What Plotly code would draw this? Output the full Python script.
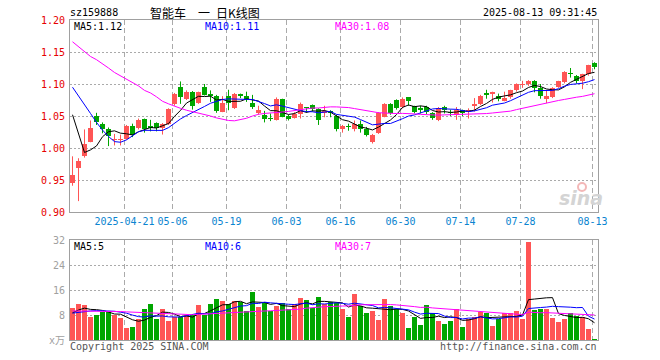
import plotly.graph_objects as go

# ---------------- data ----------------
opens = [0.946, 0.968, 0.987, 1.010, 1.050, 1.038, 1.030, 1.012, 1.012, 1.014,
         1.035, 1.031, 1.045, 1.035, 1.039, 1.031, 1.038, 1.068, 1.095, 1.077,
         1.088, 1.070, 1.095, 1.085, 1.082, 1.057, 1.082, 1.062, 1.085, 1.082,
         1.071, 1.054, 1.052, 1.046, 1.044, 1.076, 1.050, 1.047, 1.053, 1.064,
         1.067, 1.061, 1.055, 1.058, 1.050, 1.029, 1.035, 1.029, 1.038, 1.030,
         1.009, 1.024, 1.049, 1.069, 1.075, 1.064, 1.079, 1.065, 1.062, 1.064,
         1.054, 1.043, 1.064, 1.057, 1.052, 1.059, 1.056, 1.065, 1.068, 1.086,
         1.085, 1.081, 1.074, 1.079, 1.090, 1.099, 1.100, 1.105, 1.093, 1.077,
         1.079, 1.095, 1.103, 1.117, 1.113, 1.104, 1.115, 1.133]
highs = [0.987, 0.984, 1.029, 1.043, 1.055, 1.040, 1.032, 1.022, 1.021, 1.036,
         1.038, 1.046, 1.046, 1.044, 1.040, 1.039, 1.062, 1.086, 1.104, 1.090,
         1.089, 1.088, 1.100, 1.090, 1.083, 1.081, 1.091, 1.086, 1.085, 1.088,
         1.083, 1.066, 1.058, 1.054, 1.079, 1.077, 1.052, 1.056, 1.071, 1.064,
         1.068, 1.062, 1.066, 1.059, 1.052, 1.036, 1.038, 1.043, 1.043, 1.033,
         1.022, 1.056, 1.070, 1.070, 1.076, 1.079, 1.079, 1.066, 1.066, 1.066,
         1.056, 1.064, 1.066, 1.060, 1.064, 1.060, 1.062, 1.078, 1.083, 1.091,
         1.088, 1.085, 1.088, 1.091, 1.101, 1.105, 1.106, 1.106, 1.100, 1.090,
         1.095, 1.105, 1.120, 1.125, 1.114, 1.116, 1.130, 1.134]
lows = [0.941, 0.917, 0.985, 1.009, 1.036, 1.023, 1.003, 1.004, 1.004, 1.013,
        1.017, 1.029, 1.024, 1.026, 1.026, 1.021, 1.036, 1.066, 1.069, 1.075,
        1.060, 1.069, 1.082, 1.072, 1.055, 1.056, 1.059, 1.061, 1.078, 1.072,
        1.061, 1.052, 1.040, 1.042, 1.043, 1.048, 1.043, 1.046, 1.046, 1.055,
        1.057, 1.036, 1.048, 1.048, 1.026, 1.024, 1.027, 1.026, 1.024, 1.018,
        1.007, 1.022, 1.048, 1.052, 1.060, 1.062, 1.066, 1.054, 1.054, 1.053,
        1.044, 1.042, 1.054, 1.050, 1.044, 1.050, 1.046, 1.057, 1.067, 1.077,
        1.071, 1.073, 1.073, 1.077, 1.088, 1.094, 1.097, 1.087, 1.077, 1.070,
        1.078, 1.094, 1.101, 1.110, 1.101, 1.092, 1.113, 1.123]
closes = [0.958, 0.979, 1.007, 1.032, 1.040, 1.030, 1.018, 1.014, 1.014, 1.035,
          1.021, 1.043, 1.029, 1.032, 1.031, 1.038, 1.061, 1.085, 1.079, 1.088,
          1.065, 1.087, 1.083, 1.082, 1.058, 1.070, 1.071, 1.085, 1.081, 1.077,
          1.064, 1.060, 1.046, 1.045, 1.076, 1.049, 1.046, 1.053, 1.068, 1.062,
          1.061, 1.044, 1.058, 1.055, 1.029, 1.035, 1.033, 1.038, 1.029, 1.020,
          1.021, 1.055, 1.069, 1.054, 1.062, 1.077, 1.074, 1.056, 1.060, 1.056,
          1.047, 1.062, 1.059, 1.054, 1.059, 1.055, 1.060, 1.068, 1.082, 1.083,
          1.087, 1.077, 1.078, 1.090, 1.100, 1.100, 1.105, 1.094, 1.081, 1.081,
          1.094, 1.104, 1.118, 1.116, 1.104, 1.115, 1.129, 1.127]
volumes = [10.35, 11.5, 11.2, 7.5, 8.0, 9.1, 9.0, 8.0, 7.2, 3.9,
           4.3, 6.6, 9.9, 11.5, 6.7, 9.9, 6.1, 7.25, 7.25, 8.0,
           8.0, 11.2, 8.0, 11.5, 13.1, 12.5, 11.5, 12.5, 12.3, 9.3,
           15.4, 10.7, 12.3, 9.3, 10.9, 11.8, 9.9, 11.5, 13.5, 12.8,
           10.1, 13.9, 11.5, 12.3, 11.8, 9.9, 7.25, 14.7, 10.9, 8.75,
           9.3, 6.4, 13.1, 10.9, 9.9, 8.7, 3.85, 7.35, 4.8, 11.2,
           8.7, 6.1, 5.1, 6.1, 9.9, 4.2, 6.7, 7.25, 9.1, 8.5,
           4.5, 6.8, 8.7, 8.5, 9.3, 6.7, 31.4, 9.6, 9.9, 9.9,
           7.0, 5.8, 6.7, 8.7, 7.7, 7.35, 3.5, 0.35]

# moving-average values before enough history is on screen
ma5_head = [1.052, 1.022, 0.993, 0.997]
ma10_head = [1.095, 1.082, 1.068, 1.054, 1.040, 1.028, 1.018, 1.010, 1.009]
ma30_head = [1.166, 1.158, 1.150, 1.143, 1.138, 1.132, 1.125, 1.118, 1.113, 1.108,
             1.103, 1.097, 1.090, 1.086, 1.080, 1.073, 1.069, 1.065, 1.062, 1.059,
             1.057, 1.055, 1.052, 1.050, 1.047, 1.045, 1.043, 1.0425, 1.044]
vma5_head = [8.7, 9.6, 10.2, 9.8]
vma10_head = [8.6, 8.9, 9.2, 9.3, 9.4, 9.4, 9.4, 9.2, 8.9]
vma30_head = [9.3, 9.3, 9.3, 9.3, 9.2, 9.2, 9.2, 9.1, 9.1, 9.0,
              8.9, 8.8, 8.7, 8.6, 8.5, 8.4, 8.3, 8.2, 8.1, 8.1,
              8.1, 8.2, 8.3, 8.5, 8.6, 8.8, 8.9, 9.0, 9.1]

tick_idx = [9, 17, 26, 36, 45, 55, 65, 75, 87]
tick_text = ["2025-04-21", "05-06", "05-19", "06-03", "06-16", "06-30", "07-14", "07-28", "08-13"]
price_ticks = [0.90, 0.95, 1.00, 1.05, 1.10, 1.15, 1.20]
vol_ticks = [0, 8, 16, 24, 32]
vol_tick_text = ["x万", "8", "16", "24", "32"]
ma_labels = ["MA5:1.12", "MA10:1.11", "MA30:1.08"]
vma_labels = ["MA5:5", "MA10:6", "MA30:7"]
title_text = "智能车\u3000一\u2002日K线图"
code_text = "sz159888"
time_text = "2025-08-13 09:31:45"

# ---------------- styling ----------------
UP = "#ff5555"
DOWN = "#00a600"
MA_COLORS = ["#000000", "#0000ff", "#ff00ff"]
GRID = "#aaaaaa"
BORDER = "#a0a0a0"
MONO = "DejaVu Sans Mono"
CJK = "Noto Sans CJK SC"


def moving(vals, n, head):
    out = list(head)
    for i in range(len(head), len(vals)):
        out.append(sum(vals[i - n + 1:i + 1]) / n)
    return out


n = len(closes)
idx = list(range(n))
up = [c >= o for o, c in zip(opens, closes)]
MIN_BODY = 0.0016

fig = go.Figure()

# candles
for flag, color in [(True, UP), (False, DOWN)]:
    xs = [i for i in idx if up[i] == flag]
    wx, wy = [], []
    for i in xs:
        wx += [i, i, None]
        wy += [lows[i], highs[i], None]
    fig.add_trace(go.Scatter(x=wx, y=wy, mode="lines", line=dict(color=color, width=1),
                             xaxis="x", yaxis="y", hoverinfo="skip"))
    fig.add_trace(go.Bar(x=xs,
                         base=[min(opens[i], closes[i]) for i in xs],
                         y=[max(abs(closes[i] - opens[i]), MIN_BODY) for i in xs],
                         width=5 / 6, marker=dict(color=color, line=dict(width=0)),
                         xaxis="x", yaxis="y"))

# price MAs
for (p, head), color in zip([(5, ma5_head), (10, ma10_head), (30, ma30_head)], MA_COLORS):
    fig.add_trace(go.Scatter(x=idx, y=moving(closes, p, head), mode="lines",
                             line=dict(color=color, width=1), xaxis="x", yaxis="y"))

# volume bars
fig.add_trace(go.Bar(x=idx, y=volumes, width=5 / 6,
                     marker=dict(color=[UP if u else DOWN for u in up], line=dict(width=0)),
                     xaxis="x2", yaxis="y2"))
for (p, head), color in zip([(5, vma5_head), (10, vma10_head), (30, vma30_head)], MA_COLORS):
    fig.add_trace(go.Scatter(x=idx, y=moving(volumes, p, head), mode="lines",
                             line=dict(color=color, width=1), xaxis="x2", yaxis="y2"))

grid_x = [i - 1 / 3 for i in tick_idx]
xr = [-5 / 12, n - 5 / 12]

common_x = dict(range=xr, tickmode="array", tickvals=grid_x, showgrid=True, gridcolor=GRID,
                griddash="5px,3px", gridwidth=1, showline=True, mirror=True, linecolor=BORDER,
                linewidth=1, zeroline=False, ticks="", automargin=False, fixedrange=True)
common_y = dict(tickmode="array", showgrid=True, gridcolor=GRID, griddash="2px,2px", gridwidth=1,
                showline=True, mirror=True, linecolor=BORDER, linewidth=1, zeroline=False,
                ticks="outside", ticklen=2, tickcolor="rgba(0,0,0,0)", automargin=False,
                fixedrange=True)

fig.update_layout(
    template="none", width=660, height=360,
    margin=dict(l=70, r=62, t=20, b=20),
    paper_bgcolor="white", plot_bgcolor="white", showlegend=False,
    barmode="overlay", bargap=0,
    font=dict(family=MONO, size=10, color="#000"),
    xaxis=dict(domain=[0, 1], anchor="y", ticktext=tick_text,
               tickfont=dict(family=MONO, size=10, color="#0a84d0"), **common_x),
    xaxis2=dict(domain=[0, 1], anchor="y2", matches="x", showticklabels=False, **common_x),
    yaxis=dict(domain=[0.4, 1.0], anchor="x", range=[0.90, 1.20], tickvals=price_ticks,
               ticktext=[f"{v:.2f}" for v in price_ticks],
               tickfont=dict(family=MONO, size=10, color="#e60000"), **common_y),
    yaxis2=dict(domain=[0, 0.3125], anchor="x2", range=[0, 32], tickvals=vol_ticks,
                ticktext=vol_tick_text,
                tickfont=dict(family=MONO + ", " + CJK, size=10, color="#a0a0a0"), **common_y),
)


def px(x):
    return (x - 70) / 528


def py(y):
    return (340 - y) / 320


anns = []


def note(text, x, y, xanchor="left", color="#000", size=10, family=MONO):
    anns.append(dict(text=text, x=px(x), y=py(y), xref="paper", yref="paper", showarrow=False,
                     xanchor=xanchor, yanchor="middle", font=dict(family=family, size=size, color=color),
                     borderpad=0))


note(code_text, 69, 13)
note(title_text, 149, 12.5, size=12, family=CJK)
note(time_text, 598, 13, xanchor="right")
for lab, xx, col in zip(ma_labels, [73, 203.5, 334], MA_COLORS):
    note(lab, xx, 26, color=col)
for lab, xx, col in zip(vma_labels, [73, 203.5, 334], MA_COLORS):
    note(lab, xx, 246, color=col)
note("Copyright 2025 SINA.COM", 69, 346, color="#555555")
note("http://finance.sina.com.cn", 598, 346, xanchor="right", color="#555555")
note("<b><i>sina</i></b>", 581, 198, xanchor="center", color="#d4d4d4", size=19, family="DejaVu Sans")
fig.update_layout(annotations=anns)
fig.add_shape(type="circle", xref="paper", yref="paper", x0=px(578), x1=px(586), y0=py(191), y1=py(183),
              line=dict(color="#f3b8b8", width=2))

fig.write_html("out.html", config={"displayModeBar": False, "staticPlot": True},
               post_script="document.body.style.margin='0px';")
